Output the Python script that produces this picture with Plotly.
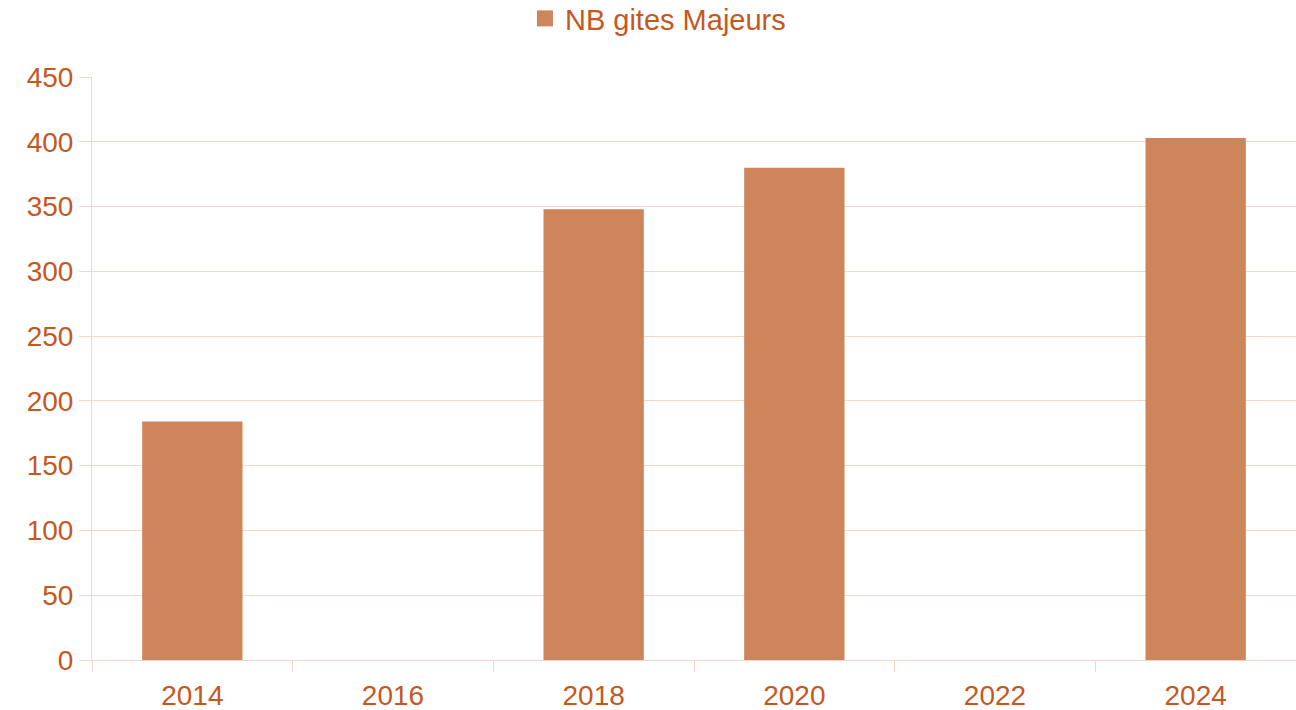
import plotly.graph_objects as go

years = ["2014", "2016", "2018", "2020", "2022", "2024"]
nb_gites_majeurs = [184, None, 348, 380, None, 403]
series_name = "NB gites Majeurs"

text_color = "#C5581F"
bar_color = "#CF855C"
grid_color = "#F2D6C8"

fig = go.Figure()
fig.add_trace(go.Bar(
    x=years, y=nb_gites_majeurs, name=series_name,
    marker=dict(color=bar_color, line=dict(width=0)),
    width=0.5, showlegend=False,
))
# legend entry with a larger square swatch
fig.add_trace(go.Scatter(
    x=[years[0]], y=[None], mode="markers", name=series_name,
    marker=dict(symbol="square", size=16, color=bar_color), showlegend=True,
    hoverinfo="skip",
))

fig.update_layout(
    width=1296, height=710,
    margin=dict(l=92, r=0, t=77, b=50, autoexpand=False),
    paper_bgcolor="white", plot_bgcolor="white",
    font=dict(family="Liberation Sans, Arial, sans-serif", size=28, color=text_color),
    showlegend=True,
    legend=dict(orientation="h", x=0.3596, xanchor="left", y=1.144, yanchor="top",
                font=dict(size=29, color=text_color),
                itemwidth=30, tracegroupgap=0, bgcolor="rgba(0,0,0,0)"),
)
fig.update_xaxes(
    type="category", showgrid=False, showline=True, linecolor=grid_color, linewidth=1,
    ticks="outside", tickson="boundaries", ticklen=11, tickcolor=grid_color,
    tickfont=dict(size=28, color=text_color), zeroline=False, ticklabelstandoff=10,
    range=[-0.5, 5.5], automargin=False,
)
fig.update_yaxes(
    range=[0, 450], dtick=50, showgrid=True, gridcolor=grid_color, gridwidth=1,
    showline=True, linecolor=grid_color, ticks="outside", ticklen=12, tickcolor=grid_color,
    tickfont=dict(size=28, color=text_color), zeroline=False, automargin=False,
)

fig.write_html(
    "out.html",
    config={"displayModeBar": False},
    post_script="document.body.style.margin='0';document.body.style.overflow='hidden';",
)
